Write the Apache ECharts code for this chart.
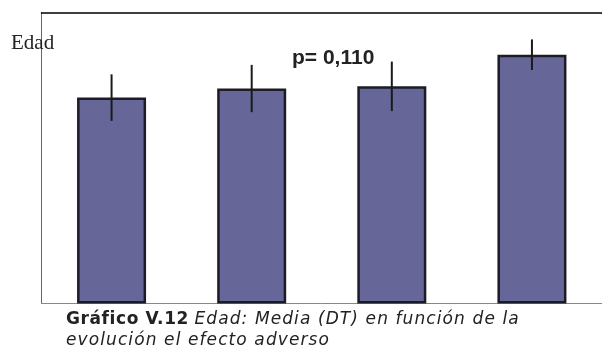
<!DOCTYPE html>
<html><head><meta charset="utf-8">
<script src="https://cdn.jsdelivr.net/npm/echarts@6/dist/echarts.min.js"></script>
<style>
html,body{margin:0;padding:0;background:#fff}
#wrap{position:relative;width:602px;height:351px;overflow:hidden}
#c{position:absolute;left:0;top:0;width:602px;height:351px}
#cap{position:absolute;left:66px;top:308px;font-family:"DejaVu Sans",sans-serif;font-size:17px;line-height:20.5px;color:#222;white-space:nowrap}
#cap b{letter-spacing:0.6px}
#cap i{letter-spacing:1.1px}
</style>
</head><body><div id="wrap"><div id="c"></div><div id="cap"></div></div>
<script>
const categories = ['1', '2', '3', '4'];
const means = [56.6, 59.1, 59.7, 68.4];
const sds = [6.4, 6.5, 6.8, 4.2];
const yMin = 0, yMax = 80;
const pText = 'p= 0,110';
const yLabel = 'Edad';
const captionBold = 'Gráfico V.12';
const captionLine1 = 'Edad: Media (DT) en función de la';
const captionLine2 = 'evolución el efecto adverso';

const cap = document.getElementById('cap');
const b = document.createElement('b'); b.textContent = captionBold;
const i1 = document.createElement('i'); i1.textContent = captionLine1;
const i2 = document.createElement('i'); i2.textContent = captionLine2;
cap.appendChild(b); cap.appendChild(document.createTextNode(' ')); cap.appendChild(i1);
cap.appendChild(document.createElement('br')); cap.appendChild(i2);

const chart = echarts.init(document.getElementById('c'), null, {renderer: 'canvas'});
const errData = means.map((m, i) => [i, m - sds[i], m + sds[i]]);
chart.setOption({
  animation: false,
  grid: {left: 41.5, top: 12.5, width: 562, height: 291},
  xAxis: [
    {type: 'category', data: categories, axisLine: {show: true, lineStyle: {color: '#888', width: 1}}, axisTick: {show: false}, axisLabel: {show: false}, splitLine: {show: false}},
    {type: 'category', data: categories, position: 'top', axisLine: {show: true, lineStyle: {color: '#000', width: 1.5}}, axisTick: {show: false}, axisLabel: {show: false}, splitLine: {show: false}}
  ],
  yAxis: {type: 'value', min: yMin, max: yMax, axisLine: {show: true, lineStyle: {color: '#666', width: 1}}, axisTick: {show: false}, axisLabel: {show: false}, splitLine: {show: false}},
  series: [
    {type: 'bar', data: means, barWidth: 69, itemStyle: {color: '#666699', borderColor: '#1c1c26', borderWidth: 2.5}, z: 2},
    {type: 'custom', data: errData, z: 3,
      renderItem: function (params, api) {
        const lo = api.coord([api.value(0), api.value(1)]);
        const hi = api.coord([api.value(0), api.value(2)]);
        return {type: 'line', shape: {x1: lo[0], y1: lo[1], x2: hi[0], y2: hi[1]}, style: {stroke: '#1a1a1a', lineWidth: 2}};
      }
    }
  ],
  graphic: [
    {type: 'text', left: 11, top: 32.5, style: {text: yLabel, font: '21px "Liberation Serif", serif', fill: '#222'}, z: 10},
    {type: 'text', left: 292, top: 47.5, style: {text: pText, font: 'bold 21px "Liberation Sans", Arial, sans-serif', fill: '#222'}, z: 10}
  ]
});
</script></body></html>
